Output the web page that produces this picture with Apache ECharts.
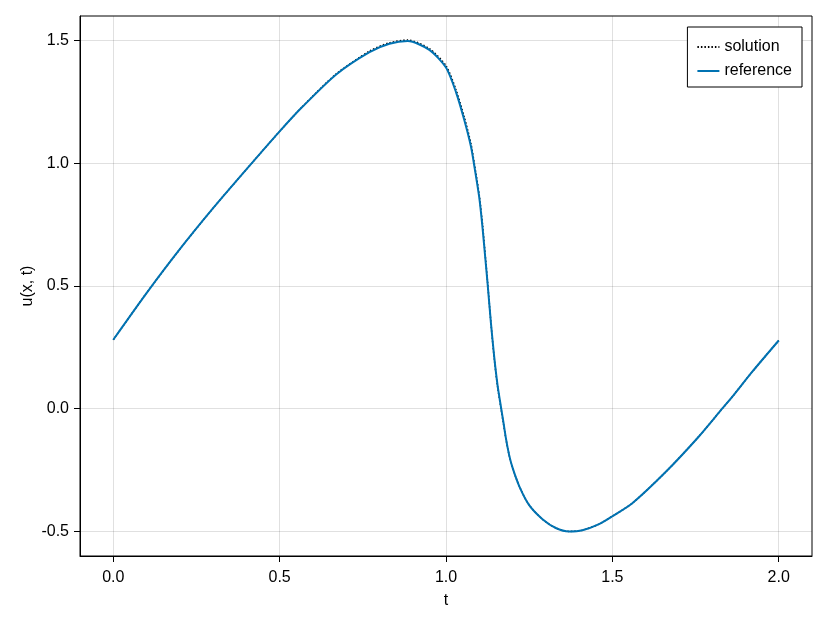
<!DOCTYPE html>
<html>
<head>
<meta charset="utf-8">
<script src="https://cdn.jsdelivr.net/npm/echarts@6/dist/echarts.min.js"></script>
<style>
  html, body { margin: 0; padding: 0; background: #fff; }
  #chart { width: 830px; height: 623px; }
</style>
</head>
<body>
<div id="chart"></div>
<script>
// t values (shared by both curves)
const tValues = [0, 0.1, 0.2, 0.3, 0.4, 0.5, 0.57, 0.67, 0.77, 0.83, 0.885, 0.95, 1.0, 1.03, 1.055, 1.075, 1.085, 1.1, 1.11, 1.118, 1.125, 1.135, 1.145, 1.155, 1.166, 1.172, 1.18, 1.19, 1.2, 1.22, 1.25, 1.29, 1.33, 1.37, 1.41, 1.46, 1.5, 1.56, 1.66, 1.76, 1.83, 1.86, 1.92, 2.0]

// numerical solution (dotted black)
const solutionValues = [0.281, 0.471, 0.650, 0.817, 0.975, 1.13, 1.233, 1.364, 1.457, 1.491, 1.502, 1.467, 1.397, 1.3, 1.188, 1.08, 1.0, 0.87, 0.748, 0.625, 0.515, 0.35, 0.205, 0.09, -0.005, -0.055, -0.122, -0.19, -0.24, -0.315, -0.393, -0.45, -0.486, -0.5, -0.495, -0.47, -0.438, -0.385, -0.258, -0.113, 0.0, 0.048, 0.15, 0.278]

// reference curve (solid blue)
const referenceValues = [0.281, 0.471, 0.650, 0.817, 0.975, 1.13, 1.232, 1.362, 1.453, 1.487, 1.498, 1.462, 1.39, 1.29, 1.176, 1.068, 0.99, 0.86, 0.735, 0.615, 0.51, 0.35, 0.21, 0.095, 0.0, -0.05, -0.12, -0.19, -0.24, -0.315, -0.393, -0.45, -0.486, -0.5, -0.495, -0.47, -0.438, -0.385, -0.258, -0.113, 0.0, 0.048, 0.15, 0.278]

const xTicks = [0, 0.5, 1.0, 1.5, 2.0]
const yTicks = [-0.5, 0, 0.5, 1.0, 1.5]

const FONT = 'Liberation Sans, Arial, sans-serif'
const GRID_COLOR = 'rgba(0,0,0,0.12)'

const toPairs = (ys) => tValues.map((t, i) => [t, ys[i]])

const chart = echarts.init(document.getElementById('chart'))

chart.setOption({
  animation: false,
  textStyle: { fontFamily: FONT },
  grid: {
    left: 80,
    right: 18,
    top: 16,
    bottom: 67,
    show: true,
    borderColor: '#000',
    borderWidth: 1
  },
  legend: {
    orient: 'vertical',
    right: 28,
    top: 27,
    padding: [12, 10, 8, 9],
    itemGap: 8,
    itemWidth: 22,
    itemHeight: 14,
    borderColor: '#000',
    borderWidth: 1,
    borderRadius: 0,
    backgroundColor: '#fff',
    // hide the marker dot, keep only the line sample
    itemStyle: { opacity: 0 },
    textStyle: { fontSize: 16, color: '#000', fontFamily: FONT },
    data: ['solution', 'reference']
  },
  xAxis: {
    type: 'value',
    min: -0.1,
    max: 2.1,
    name: 't',
    nameLocation: 'middle',
    nameGap: 37,
    nameTextStyle: { fontSize: 16, color: '#000', fontFamily: FONT },
    axisLine: { show: true, onZero: false, lineStyle: { color: '#000', width: 1 } },
    axisTick: { show: true, inside: false, length: 6, customValues: xTicks, lineStyle: { color: '#000' } },
    axisLabel: {
      customValues: xTicks,
      margin: 14,
      fontSize: 16,
      color: '#000',
      fontFamily: FONT,
      formatter: (v) => v.toFixed(1)
    },
    splitLine: { show: true, lineStyle: { color: GRID_COLOR, width: 1 } }
  },
  yAxis: {
    type: 'value',
    min: -0.6,
    max: 1.6,
    name: 'u(x, t)',
    nameLocation: 'middle',
    nameRotate: 90,
    nameGap: 44,
    nameMoveOverlap: false,
    nameTextStyle: { fontSize: 16, color: '#000', fontFamily: FONT },
    axisLine: { show: true, onZero: false, lineStyle: { color: '#000', width: 1 } },
    axisTick: { show: true, inside: false, length: 6, customValues: yTicks, lineStyle: { color: '#000' } },
    axisLabel: {
      customValues: yTicks,
      margin: 11,
      fontSize: 16,
      color: '#000',
      fontFamily: FONT,
      formatter: (v) => v.toFixed(1)
    },
    splitLine: { show: true, lineStyle: { color: GRID_COLOR, width: 1 } }
  },
  series: [
    {
      name: 'solution',
      type: 'line',
      data: toPairs(solutionValues),
      symbol: 'none',
      smooth: 0.25,
      lineStyle: { color: '#000', width: 1.5, type: [1.5, 2] },
      itemStyle: { color: '#000' }
    },
    {
      name: 'reference',
      type: 'line',
      data: toPairs(referenceValues),
      symbol: 'none',
      smooth: 0.25,
      lineStyle: { color: '#0072b2', width: 2 },
      itemStyle: { color: '#0072b2' }
    }
  ]
})
</script>
</body>
</html>
